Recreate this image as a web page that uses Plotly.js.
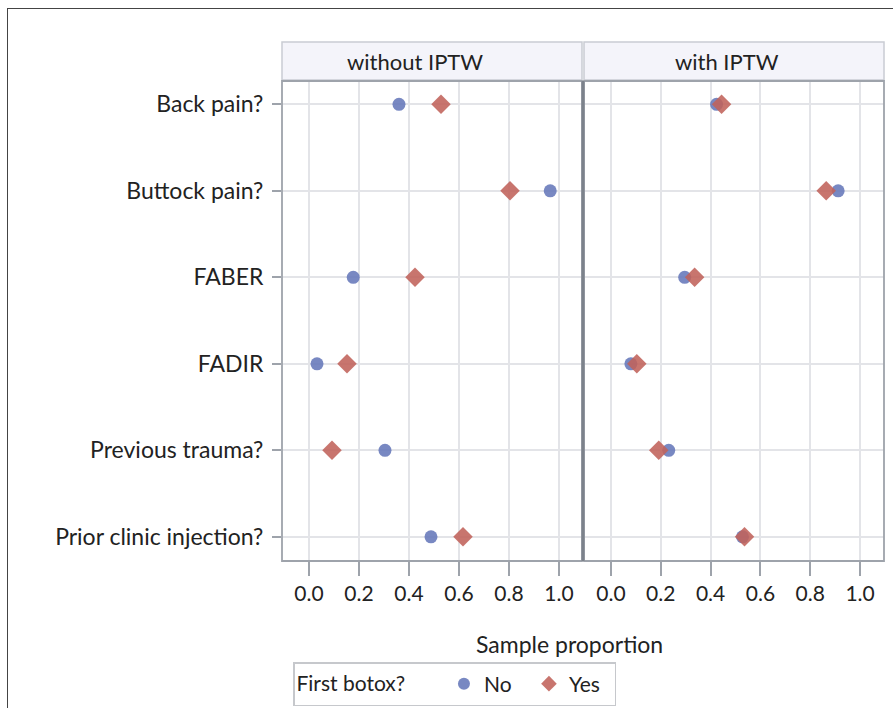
<!DOCTYPE html>
<html>
<head>
<meta charset="utf-8">
<script src="https://cdn.plot.ly/plotly-3.0.1.min.js"></script>
<style>
  html, body { margin: 0; padding: 0; background: #ffffff; }
  #wrap { position: relative; width: 893px; height: 708px; }
  #chart { width: 893px; height: 708px; }
  #frame { position: absolute; left: 7px; top: 8px; width: 900px; height: 720px;
           border-top: 1px solid #444; border-left: 1px solid #444; pointer-events: none; }
</style>
</head>
<body>
<div id="wrap"><div id="chart"></div><div id="frame"></div></div>
<script>
// ---- data ----
const categories = ["Back pain?", "Buttock pain?", "FABER", "FADIR", "Previous trauma?", "Prior clinic injection?"];
const panelTitles = ["without IPTW", "with IPTW"];
const noWithout  = [0.36, 0.965, 0.177, 0.032, 0.304, 0.488];
const yesWithout = [0.528, 0.804, 0.424, 0.152, 0.092, 0.616];
const noWith     = [0.424, 0.912, 0.296, 0.080, 0.232, 0.528];
const yesWith    = [0.444, 0.864, 0.336, 0.104, 0.192, 0.536];
const xTicks = [0, 0.2, 0.4, 0.6, 0.8, 1.0];
const xTickText = ["0.0", "0.2", "0.4", "0.6", "0.8", "1.0"];
const seriesNames = ["No", "Yes"];
const legendTitle = "First botox?";
const xTitle = "Sample proportion";

const FONT = "Lato, Open Sans, DejaVu Sans, sans-serif";
const blue = "#6577b9";
const red = "#c0625a";

function tr(x, name, color, symbol, size, xa, show) {
  return {
    type: "scatter", mode: "markers", x: x, y: categories, name: name,
    xaxis: xa, yaxis: "y", showlegend: show, legendgroup: name,
    marker: { color: color, symbol: symbol, size: size, opacity: 0.88, line: { width: 0 } },
    hoverinfo: "x+y+name"
  };
}

const data = [
  tr(noWithout, seriesNames[0], blue, "circle", 13, "x", true),
  tr(yesWithout, seriesNames[1], red, "diamond", 15, "x", true),
  tr(noWith, seriesNames[0], blue, "circle", 13, "x2", false),
  tr(yesWith, seriesNames[1], red, "diamond", 15, "x2", false)
];

const gridc = "#e3e4e8";
const axc = "#9ea3ab";
const xaxisBase = {
  range: [-0.108, 1.092], tickvals: xTicks, ticktext: xTickText,
  showgrid: true, gridcolor: gridc, gridwidth: 2, zeroline: false,
  ticks: "outside", ticklen: 14, tickwidth: 2, tickcolor: axc,
  tickfont: { family: FONT, size: 21, color: "#222" },
  showline: false, fixedrange: true, anchor: "y", automargin: false
};

const layout = {
  width: 893, height: 708,
  margin: { l: 282, r: 9, t: 81, b: 147 },
  paper_bgcolor: "rgba(0,0,0,0)", plot_bgcolor: "#ffffff",
  font: { family: FONT, color: "#222" },
  xaxis: Object.assign({}, xaxisBase, { domain: [0, 0.4983] }),
  xaxis2: Object.assign({}, xaxisBase, { domain: [0.5017, 1], range: [-0.108, 1.096] }),
  yaxis: {
    type: "category", categoryorder: "array", categoryarray: categories,
    range: [5.28, -0.27], showgrid: true, gridcolor: gridc, gridwidth: 2,
    zeroline: false, ticks: "outside", ticklen: 9, tickwidth: 2, tickcolor: axc,
    tickfont: { family: FONT, size: 23, color: "#222" }, ticklabelstandoff: 4,
    showline: false, fixedrange: true, anchor: "x", automargin: false
  },
  showlegend: true,
  legend: {
    orientation: "h", xref: "container", yref: "container",
    x: 293 / 893, xanchor: "left", y: 1 - 706 / 708, yanchor: "bottom",
    bordercolor: "#c6c8cc", borderwidth: 1.5, bgcolor: "#ffffff",
    font: { family: FONT, size: 21, color: "#222" },
    title: { text: legendTitle + "\u00a0\u00a0\u00a0\u00a0\u00a0\u00a0", font: { family: FONT, size: 21, color: "#222" } },
    itemsizing: "constant", entrywidth: 40
  },
  annotations: [
    { text: panelTitles[0], xref: "x domain", yref: "paper", x: 0.443, y: 1.041, xanchor: "center", yanchor: "middle",
      showarrow: false, font: { family: FONT, size: 22, color: "#222" } },
    { text: panelTitles[1], xref: "x2 domain", yref: "paper", x: 0.475, y: 1.041, xanchor: "center", yanchor: "middle",
      showarrow: false, font: { family: FONT, size: 22, color: "#222" } },
    { text: xTitle, xref: "paper", yref: "paper", x: 0.4776, y: -0.173, xanchor: "center", yanchor: "middle",
      showarrow: false, font: { family: FONT, size: 23, color: "#222" } }
  ],
  shapes: [
    { type: "rect", xref: "x domain", yref: "paper", x0: 0, x1: 1, y0: 1.002, y1: 1.081,
      fillcolor: "#f4f4fa", line: { color: "#c9ccd3", width: 1.5 }, layer: "below" },
    { type: "rect", xref: "x2 domain", yref: "paper", x0: 0, x1: 1, y0: 1.002, y1: 1.081,
      fillcolor: "#f4f4fa", line: { color: "#c9ccd3", width: 1.5 }, layer: "below" },
    { type: "rect", xref: "x domain", yref: "y domain", x0: 0, x1: 1, y0: 0, y1: 1,
      line: { color: axc, width: 1.8 }, layer: "above" },
    { type: "rect", xref: "x2 domain", yref: "y domain", x0: 0, x1: 1, y0: 0, y1: 1,
      line: { color: axc, width: 1.8 }, layer: "above" },
    { type: "line", xref: "paper", yref: "paper", x0: 0.5, x1: 0.5, y0: 0, y1: 1,
      line: { color: "#7c828b", width: 3 }, layer: "above" }
  ]
};

Plotly.newPlot("chart", data, layout, { displayModeBar: false, staticPlot: true });
</script>
</body>
</html>
